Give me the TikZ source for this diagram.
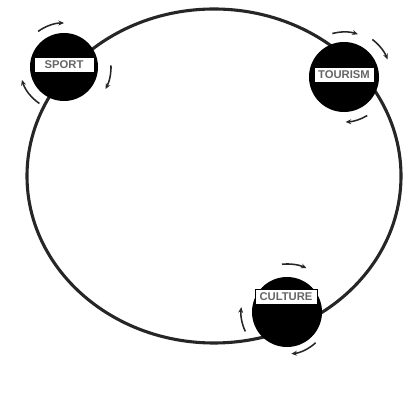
\documentclass[tikz,border=0pt]{standalone}
\usepackage{fontspec}
\setmainfont{Liberation Sans}
\usetikzlibrary{arrows.meta, positioning}

\tikzset{
  ring/.style={line width=2.2pt, black!85},
  disk/.style={circle, fill=black, inner sep=0pt, minimum size=#1},
  tag/.style={draw=black, fill=white, line width=0.5pt, minimum width=1.5cm,
    minimum height=0.38cm, inner sep=1pt, font=\bfseries\fontsize{8}{9}\selectfont, text=black!60},
  spin/.style={line width=1.1pt, black!85, -{Stealth[length=4pt, width=3.5pt]}}
}

\begin{document}
\begin{tikzpicture}[x=0.025cm, y=0.025cm]
  \useasboundingbox (0,0) rectangle (408,408);

  % the big loop
  \coordinate (hub) at (214,232);
  \draw[ring] (hub) ellipse [x radius=187, y radius=167];

  % the three disks
  \node[disk=1.7cm]  (sport)   at (64,341)  {};
  \node[disk=1.75cm] (tourism) at (344,331) {};
  \node[disk=1.75cm] (culture) at (287,96)  {};

  \node[tag] (sport-tag)   at (64,343)  {SPORT};
  \node[tag] (tourism-tag) at (344,333) {TOURISM};
  \node[tag, minimum width=1.55cm] (culture-tag) at (286,111) {CULTURE};

  % turning arrows round each disk
  \foreach \a/\b/\r in {126/90/44, 2/-28/47, 236/197/44}
    \draw[spin] ([shift={(\a:\r)}]sport.center) arc[start angle=\a, end angle=\b, radius=\r];
  \foreach \a/\b/\r in {105/72/45, 53/22/47, -59/-88/45}
    \draw[spin] ([shift={(\a:\r)}]tourism.center) arc[start angle=\a, end angle=\b, radius=\r];
  \foreach \a/\b/\r in {96/66/48, 205/174/46, -47/-84/42}
    \draw[spin] ([shift={(\a:\r)}]culture.center) arc[start angle=\a, end angle=\b, radius=\r];
\end{tikzpicture}
\end{document}
